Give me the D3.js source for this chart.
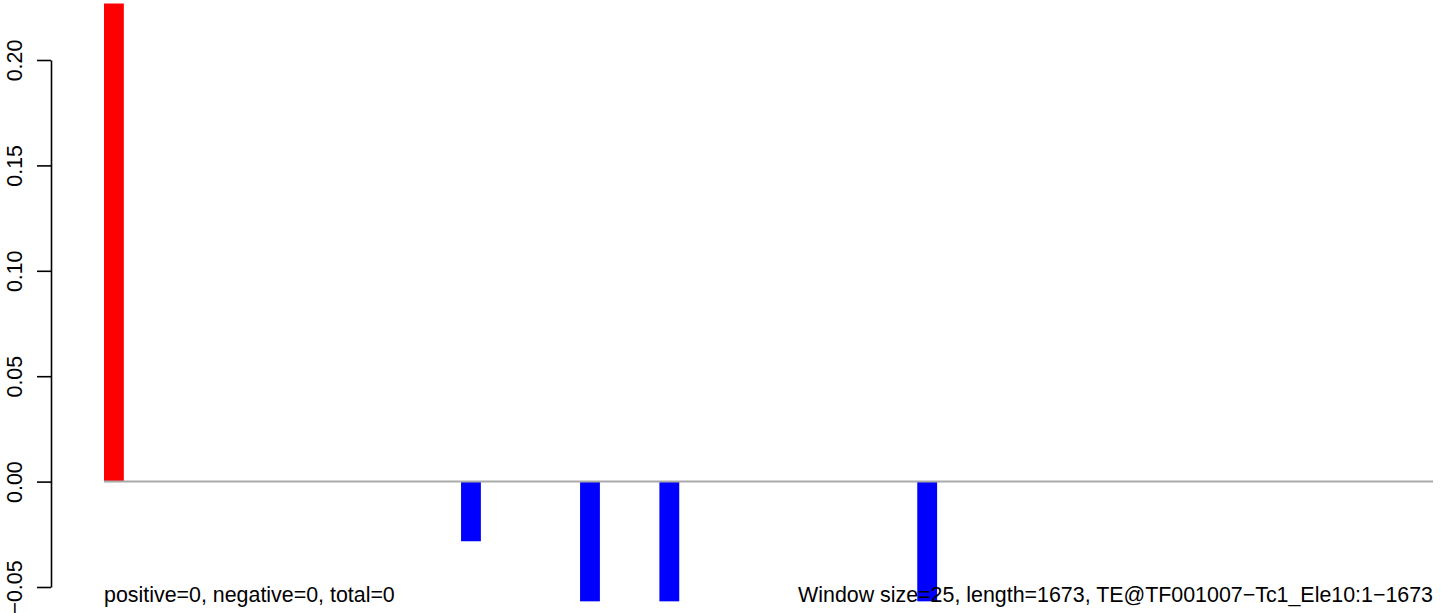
<!DOCTYPE html>
<html>
<head>
<meta charset="utf-8">
<script src="https://cdn.jsdelivr.net/npm/d3@7"></script>
<style>
  html, body { margin: 0; padding: 0; background: #fff; }
  svg { display: block; }
  text { font-family: "Liberation Sans", Arial, Helvetica, sans-serif; }
</style>
</head>
<body>
<svg id="chart" width="1444" height="613"></svg>
<script>
// ---- data ----
const windowCount = 67;                       // 1673 bp / window size 25
const windows = d3.range(1, windowCount + 1); // window indices
const barWindows = [1, 19, 25, 29, 42];       // windows with non-zero values
const barValues  = [0.2268, -0.0283, -0.0568, -0.0568, -0.0568];
const yTicks = [-0.05, 0.00, 0.05, 0.10, 0.15, 0.20];
const leftNote  = "positive=0, negative=0, total=0";
const rightNote = "Window size=25, length=1673, TE@TF001007\u2212Tc1_Ele10:1\u22121673";

const valueByWindow = new Map(barWindows.map((w, i) => [w, barValues[i]]));
const series = windows.map(w => ({ w, v: valueByWindow.get(w) || 0 }));

// ---- layout ----
const svg = d3.select("#chart");
const plotLeft = 51;
const barLeft = 104, barRight = 1433;
const fontPx = 21.4;

const x = d3.scaleBand().domain(windows).range([barLeft, barRight]).padding(0);
const y = d3.scaleLinear().domain([-0.05, 0.20]).range([587, 60]);

// bars
svg.append("g").selectAll("rect")
  .data(series.filter(d => d.v !== 0))
  .join("rect")
  .attr("x", d => x(d.w))
  .attr("width", x.bandwidth())
  .attr("y", d => d.v >= 0 ? y(d.v) : y(0))
  .attr("height", d => Math.abs(y(d.v) - y(0)))
  .attr("fill", d => d.v >= 0 ? "#FF0000" : "#0000FF");

// zero line
svg.append("line")
  .attr("x1", barLeft).attr("x2", barRight)
  .attr("y1", y(0)).attr("y2", y(0))
  .attr("stroke", "#A9A9A9").attr("stroke-width", 2);

// y axis
const fmt = d3.format(".2f");
const axis = d3.axisLeft(y).tickValues(yTicks).tickFormat(fmt)
  .tickSize(14).tickSizeOuter(0);
const gA = svg.append("g").attr("transform", `translate(${plotLeft},0)`).call(axis);
gA.select(".domain").attr("stroke", "#000").attr("stroke-width", 1.6);
gA.selectAll(".tick line").attr("stroke", "#000").attr("stroke-width", 1.6);
gA.selectAll(".tick text")
  .attr("x", null).attr("dy", null)
  .attr("transform", "translate(-29,0) rotate(-90)")
  .attr("text-anchor", "middle")
  .attr("fill", "#000")
  .style("font-size", fontPx + "px")
  .style("font-family", '"Liberation Sans", Arial, sans-serif');

// notes
svg.append("text")
  .attr("x", barLeft).attr("y", 602)
  .attr("font-size", fontPx).attr("fill", "#000")
  .text(leftNote);
svg.append("text")
  .attr("x", barRight).attr("y", 602)
  .attr("text-anchor", "end")
  .attr("font-size", fontPx).attr("fill", "#000")
  .text(rightNote);
</script>
</body>
</html>
